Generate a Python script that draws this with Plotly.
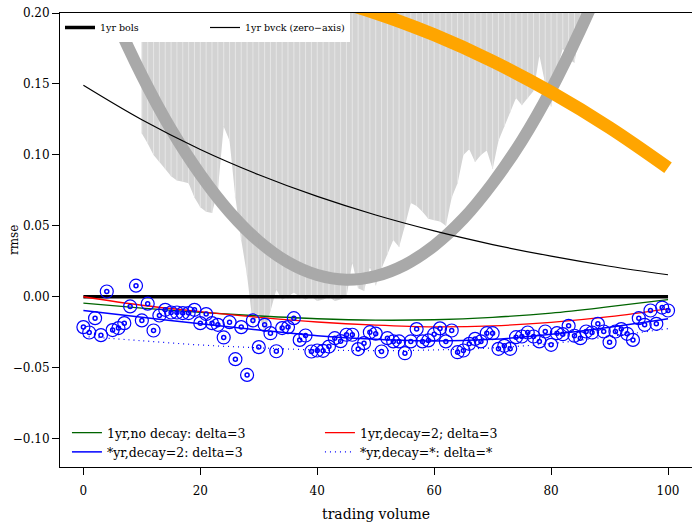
import plotly.graph_objects as go

# ---- data -------------------------------------------------------------
volume = list(range(0, 101))

# per-volume rmse differences (open circles)
rmse_pts = [
    -0.0214, -0.0252, -0.0151, -0.0271, 0.0037, -0.0235, -0.0221, -0.0186, -0.0068, 0.0078,
    -0.0167, -0.0049, -0.0238, -0.0132, -0.0092, -0.0111, -0.0111, -0.0115, -0.0115, -0.0092,
    -0.0186, -0.0122, -0.0186, -0.0198, -0.0287, -0.0179, -0.0440, -0.0214, -0.0551, -0.0167,
    -0.0355, -0.0198, -0.0257, -0.0384, -0.0221, -0.0214, -0.0151, -0.0304, -0.0273, -0.0386,
    -0.0379, -0.0381, -0.0351, -0.0292, -0.0313, -0.0268, -0.0268, -0.0369, -0.0327, -0.0250,
    -0.0260, -0.0386, -0.0292, -0.0315, -0.0315, -0.0398, -0.0315, -0.0228, -0.0315, -0.0308,
    -0.0264, -0.0223, -0.0315, -0.0238, -0.0391, -0.0379, -0.0332, -0.0297, -0.0315, -0.0257,
    -0.0257, -0.0367, -0.0346, -0.0367, -0.0285, -0.0280, -0.0252, -0.0280, -0.0315, -0.0245,
    -0.0339, -0.0257, -0.0264, -0.0205, -0.0275, -0.0292, -0.0245, -0.0252, -0.0191, -0.0245,
    -0.0320, -0.0245, -0.0228, -0.0261, -0.0304, -0.0151, -0.0198, -0.0097, -0.0191, -0.0076,
    -0.0097,
]

curve_x = [0, 10, 20, 30, 40, 50, 60, 70, 80, 90, 100]
bols = [0.0] * len(curve_x)
bvck = [0.149, 0.1247, 0.1038, 0.0860, 0.0707, 0.0576, 0.0464, 0.0368, 0.0286, 0.0215, 0.0155]
no_decay = [-0.0045, -0.0080, -0.0110, -0.0135, -0.0155, -0.0165, -0.0162, -0.0145, -0.0115, -0.0070, -0.0020]
decay2 = [0.0, -0.0060, -0.0105, -0.0145, -0.0178, -0.0200, -0.0212, -0.0205, -0.0180, -0.0140, -0.0085]
star_decay2 = [-0.0097, -0.0145, -0.0190, -0.0235, -0.0275, -0.0300, -0.0312, -0.0300, -0.0265, -0.0215, -0.0155]
star_star = [-0.0280, -0.0310, -0.0340, -0.0360, -0.0375, -0.0380, -0.0375, -0.0360, -0.0330, -0.0280, -0.0225]
trend_orange = [0.228, 0.2289, 0.2265, 0.2209, 0.2120, 0.2000, 0.1846, 0.1660, 0.1442, 0.1192, 0.0909]

ring_x = [0, 5, 10, 15, 20, 25, 30, 35, 40, 45, 50, 55, 60, 65, 70, 75, 80, 85, 90, 95, 100]
ring_y = [0.2498, 0.200, 0.156, 0.118, 0.0862, 0.0598, 0.0391, 0.0243, 0.0153, 0.0120, 0.0146,
          0.0225, 0.0360, 0.0550, 0.0800, 0.110, 0.146, 0.188, 0.235, 0.288, 0.345]

band_x = list(range(10, 87))
band_low = [
    0.115, 0.108, 0.100, 0.095, 0.090, 0.085, 0.082, 0.081, 0.080, 0.070,
    0.063, 0.060, 0.059, 0.075, 0.120, 0.110, 0.070, 0.040, 0.015, -0.020,
    -0.012, -0.025, -0.010, 0.005, -0.002, 0.000, 0.003, 0.000, -0.002, 0.000,
    -0.003, -0.002, 0.000, -0.003, -0.002, 0.000, 0.024, 0.006, 0.004, 0.021,
    0.008, 0.020, 0.030, 0.040, 0.035, 0.050, 0.066, 0.064, 0.060, 0.055,
    0.054, 0.053, 0.050, 0.070, 0.080, 0.100, 0.104, 0.095, 0.100, 0.103,
    0.090, 0.110, 0.120, 0.130, 0.140, 0.135, 0.140, 0.145, 0.170, 0.150,
    0.134, 0.160, 0.175, 0.167, 0.165, 0.190, 0.200,
]
band_high = 0.25

FONT = "DejaVu Serif"

fig = go.Figure()

# shaded band with vertical hatching
fig.add_trace(go.Scatter(
    x=band_x + band_x[::-1], y=band_low + [band_high] * len(band_x),
    fill="toself", fillcolor="#d3d3d3", mode="none", showlegend=False, hoverinfo="skip",
))
sx, sy = [], []
for xv, lo in zip(band_x, band_low):
    sx += [xv, xv, None]
    sy += [lo, band_high, None]
fig.add_trace(go.Scatter(x=sx, y=sy, mode="lines", line=dict(color="#e6e6e6", width=1),
                         showlegend=False, hoverinfo="skip"))

fig.add_trace(go.Scatter(x=ring_x, y=ring_y, mode="lines", line=dict(color="#a9a9a9", width=12, shape="spline"),
                         showlegend=False, hoverinfo="skip"))
fig.add_trace(go.Scatter(x=curve_x, y=trend_orange, mode="lines", line=dict(color="#ffa500", width=13, shape="spline"),
                         showlegend=False, hoverinfo="skip"))

# top legend group
fig.add_trace(go.Scatter(x=curve_x, y=bols, mode="lines", name="1yr bols",
                         line=dict(color="black", width=3.5), legend="legend"))
fig.add_trace(go.Scatter(x=curve_x, y=bvck, mode="lines", name="1yr bvck (zero\u2212axis)",
                         line=dict(color="black", width=1.2, shape="spline"), legend="legend"))

# bottom legend group
fig.add_trace(go.Scatter(x=curve_x, y=no_decay, mode="lines", name="1yr,no decay: delta=3",
                         line=dict(color="#006400", width=1.3, shape="spline"), legend="legend2"))
fig.add_trace(go.Scatter(x=curve_x, y=decay2, mode="lines", name="1yr,decay=2; delta=3",
                         line=dict(color="#ff0000", width=1.3, shape="spline"), legend="legend2"))
fig.add_trace(go.Scatter(x=curve_x, y=star_decay2, mode="lines", name="*yr,decay=2: delta=3",
                         line=dict(color="#0000ff", width=1.5, shape="spline"), legend="legend2"))
fig.add_trace(go.Scatter(x=curve_x, y=star_star, mode="lines", name="*yr,decay=*: delta=*",
                         line=dict(color="#0000ff", width=1.2, dash="1px,4px", shape="spline"), legend="legend2"))

# points
fig.add_trace(go.Scatter(x=volume, y=rmse_pts, mode="markers", showlegend=False, hoverinfo="skip",
                         marker=dict(symbol="circle-open", size=13, color="#0000ff", line=dict(width=1.2))))
fig.add_trace(go.Scatter(x=volume, y=rmse_pts, mode="markers", showlegend=False,
                         marker=dict(symbol="circle-open", size=4, color="#0000ff", line=dict(width=1.5))))

yticks = [-0.10, -0.05, 0.0, 0.05, 0.10, 0.15, 0.20]
fig.update_layout(
    width=692, height=522,
    margin=dict(l=60, r=0, t=13, b=55),
    paper_bgcolor="white", plot_bgcolor="white",
    font=dict(family=FONT, size=12, color="black"),
    showlegend=True,
    legend=dict(x=0, y=1, xanchor="left", yanchor="top", orientation="h",
                bgcolor="white", borderwidth=0, font=dict(size=9.5),
                entrywidth=100, entrywidthmode="pixels"),
    legend2=dict(x=0.011, y=0, xanchor="left", yanchor="bottom", orientation="h",
                 bgcolor="rgba(255,255,255,0)", borderwidth=0, font=dict(size=12.5),
                 entrywidth=208, entrywidthmode="pixels"),
    xaxis=dict(range=[-4, 104.1], tickvals=[0, 20, 40, 60, 80, 100], ticks="outside", ticklen=7,
               tickcolor="black", showline=True, linecolor="black", linewidth=1, mirror=True,
               showgrid=False, zeroline=False, title=dict(text="trading volume", standoff=20),
               tickfont=dict(size=12), ticklabelstandoff=6, automargin=False),
    yaxis=dict(range=[-0.12, 0.20], tickvals=yticks,
               ticktext=[("\u2212" if v < 0 else "") + "%.2f" % abs(v) for v in yticks],
               ticks="outside", ticklen=7, tickcolor="black", showline=True, linecolor="black",
               linewidth=1, mirror=True, showgrid=False, zeroline=False, tickfont=dict(size=12),
               automargin=False),
    annotations=[dict(text="rmse", xref="paper", yref="paper", x=-0.0728, y=0.5, textangle=-90,
                      showarrow=False, xanchor="center", yanchor="middle", font=dict(size=12))],
)

fig.write_html("out.html")
